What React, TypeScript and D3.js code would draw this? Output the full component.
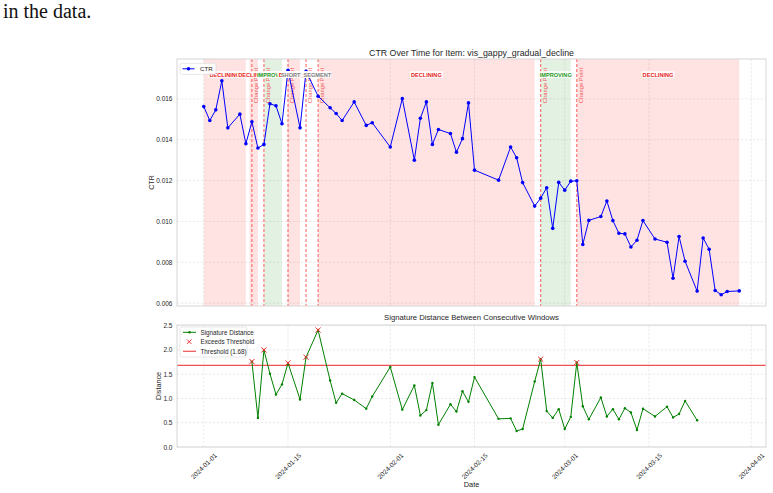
import * as d3 from 'd3';

// CTR series (days since 2024-01-01)
const ctrDays = [
  0, 1, 2, 3, 4, 6, 7, 8, 9, 10, 11, 12, 13, 14, 16, 17, 19, 21, 22, 23, 25, 27, 28, 31, 33,
  35, 36, 37, 38, 39, 41, 42, 43, 44, 45, 49, 51, 52, 53, 55, 56, 57, 58, 59, 60, 61, 62, 63,
  64, 66, 67, 68, 69, 70, 71, 72, 73, 75, 77, 78, 79, 80, 82, 83, 84, 85, 86, 87, 89,
];
const ctrValues = [
  0.01562, 0.01494, 0.01546, 0.01688, 0.01458, 0.01525, 0.0138, 0.01488, 0.01359, 0.01377,
  0.01576, 0.01566, 0.01478, 0.0174, 0.01458, 0.01735, 0.01613, 0.01556, 0.01528, 0.01494,
  0.01585, 0.0147, 0.01483, 0.01364, 0.01601, 0.013, 0.01505, 0.01585, 0.01377, 0.0145,
  0.0143, 0.01339, 0.01405, 0.0158, 0.01251, 0.01202, 0.01364, 0.01312, 0.0119, 0.01075,
  0.01114, 0.01165, 0.00966, 0.01191, 0.01153, 0.01197, 0.01199, 0.00887, 0.01005, 0.01024,
  0.011, 0.01004, 0.00942, 0.00939, 0.00875, 0.00908, 0.01004, 0.00914, 0.00898, 0.00722,
  0.00926, 0.00805, 0.00659, 0.00919, 0.00864, 0.00662, 0.00641, 0.00657, 0.0066,
];

// signature distance between consecutive windows
const distDays = [
  8, 9, 10, 11, 12, 13, 14, 16, 17, 19, 21, 22, 23, 25, 27, 28, 31, 33, 35, 36, 37, 38, 39,
  41, 42, 43, 44, 45, 49, 51, 52, 53, 55, 56, 57, 58, 59, 60, 61, 62, 63, 64, 66, 67, 68, 69,
  70, 71, 72, 73, 75, 77, 78, 79, 80, 82,
];
const distValues = [
  1.76, 0.6, 2.0, 1.51, 1.08, 1.29, 1.73, 0.98, 1.85, 2.41,
  1.37, 0.91, 1.1, 0.97, 0.79, 1.04, 1.65, 0.77, 1.27, 0.65,
  0.76, 1.32, 0.46, 0.88, 0.73, 1.15, 0.93, 1.44, 0.58, 0.59,
  0.33, 0.37, 1.35, 1.81, 0.74, 0.6, 0.78, 0.37, 0.62, 1.74,
  0.84, 0.57, 1.02, 0.63, 0.78, 0.57, 0.8, 0.71, 0.35, 0.79,
  0.63, 0.83, 0.61, 0.68, 0.95, 0.55,
];
const threshold = 1.68;

// detected segments
const segStart = [0, 7.6, 10, 14, 17, 19, 56, 62];
const segEnd = [7, 9, 13, 16, 17, 55, 61, 89];
const segType = ['declining', 'declining', 'improving', 'declining', 'short_segment', 'declining', 'improving', 'declining'];

const dateTicks = ['2024-01-01', '2024-01-15', '2024-02-01', '2024-02-15', '2024-03-01', '2024-03-15', '2024-04-01'];
const ctrTicks = [0.006, 0.008, 0.01, 0.012, 0.014, 0.016];
const distTicks = [0, 0.5, 1.0, 1.5, 2.0, 2.5];

const W = 773;
const H = 493;
const AX = { left: 177, right: 766 };
const TOP = { top: 59, bottom: 306 };
const BOT = { top: 325, bottom: 447 };
const FONT = '"Liberation Sans", Arial, sans-serif';
const INK = '#262626';
const THRESH_RED = '#ef5050';

const BASE = Date.UTC(2024, 0, 1);
const toDate = (d: number) => new Date(BASE + d * 864e5);
const parse = d3.utcParse('%Y-%m-%d');

const segFill: Record<string, string | null> = { declining: 'red', improving: 'green', short_segment: null };
const segColor: Record<string, string> = { declining: '#e81c1c', improving: '#1f9a1f', short_segment: 'gray' };

function pad(lo: number, hi: number): [number, number] {
  const r = hi - lo;
  return [lo - r * 0.05, hi + r * 0.05];
}

export default function App() {
  const allDays = [...ctrDays, ...distDays];
  const [d0, d1] = pad(d3.min(allDays)!, d3.max(allDays)!);
  const x = d3.scaleUtc().domain([toDate(d0), toDate(d1)]).range([AX.left, AX.right]);

  const yCtr = d3.scaleLinear().domain(pad(d3.min(ctrValues)!, d3.max(ctrValues)!)).range([TOP.bottom, TOP.top]);
  const distMax = d3.max(distValues)!;
  const distMin = d3.min(distValues)!;
  const yDist = d3.scaleLinear().domain([0, distMax + (distMax - distMin) * 0.05]).range([BOT.bottom, BOT.top]);

  const ctrPts = ctrDays.map((d, i) => ({ date: toDate(d), v: ctrValues[i] }));
  const distPts = distDays.map((d, i) => ({ date: toDate(d), v: distValues[i] }));
  const exceed = distPts.filter((p) => p.v > threshold);
  const changePoints = exceed.map((p) => p.date);

  const ctrLine = d3.line<{ date: Date; v: number }>().x((p) => x(p.date)).y((p) => yCtr(p.v));
  const distLine = d3.line<{ date: Date; v: number }>().x((p) => x(p.date)).y((p) => yDist(p.v));

  const tickDates = dateTicks.map((t) => parse(t)!);

  const grid = (y0: number, y1: number, yTicks: number[], ys: (v: number) => number) => (
    <g stroke="#e3e3e3" strokeWidth={0.7} strokeDasharray="2.5,1.5">
      {tickDates.map((t, i) => (
        <line key={'v' + i} x1={x(t)} x2={x(t)} y1={y0} y2={y1} />
      ))}
      {yTicks.map((t, i) => (
        <line key={'h' + i} x1={AX.left} x2={AX.right} y1={ys(t)} y2={ys(t)} />
      ))}
    </g>
  );

  const frame = (y0: number, y1: number) => (
    <rect x={AX.left} y={y0} width={AX.right - AX.left} height={y1 - y0} fill="none" stroke="#d6d6d6" strokeWidth={1} />
  );

  const labelY = 74.5;

  return (
    <svg width={W} height={H} style={{ position: 'absolute', left: 0, top: 0, background: '#fff' }} fontFamily={FONT}>
      <text x={3} y={18} fontFamily='"Liberation Serif", "DejaVu Serif", serif' fontSize={20} fill="#111">
        in the data.
      </text>

      {/* ---- CTR over time ---- */}
      {grid(TOP.top, TOP.bottom, ctrTicks, yCtr)}
      <clipPath id="topClip">
        <rect x={AX.left} y={TOP.top} width={AX.right - AX.left} height={TOP.bottom - TOP.top} />
      </clipPath>
      <g clipPath="url(#topClip)">
        {segType.map((t, i) =>
          segFill[t] ? (
            <rect
              key={i}
              x={x(toDate(segStart[i]))}
              y={TOP.top}
              width={x(toDate(segEnd[i])) - x(toDate(segStart[i]))}
              height={TOP.bottom - TOP.top}
              fill={segFill[t]!}
              fillOpacity={0.11}
            />
          ) : null,
        )}
        {changePoints.map((c, i) => (
          <g key={i}>
            <line x1={x(c)} x2={x(c)} y1={TOP.top} y2={TOP.bottom} stroke="#ff4a4a" strokeWidth={0.9} strokeDasharray="3,2" />
            <text
              transform={`translate(${x(c) + 6.3},68) rotate(-90)`}
              textAnchor="end"
              fontSize={5.8}
              fill="#f05a5a"
            >
              Change Point
            </text>
          </g>
        ))}
        <path d={ctrLine(ctrPts)!} fill="none" stroke="#0000ff" strokeWidth={1} />
        {ctrPts.map((p, i) => (
          <circle key={i} cx={x(p.date)} cy={yCtr(p.v)} r={1.8} fill="#0000ff" />
        ))}
        {segType.map((t, i) => {
          const cx = x(toDate((segStart[i] + segEnd[i]) / 2));
          const label = t.toUpperCase();
          const w = label.length * (t === 'short_segment' ? 3.7 : 3.45) + 2;
          return (
            <g key={i}>
              <rect x={cx - w / 2} y={labelY - 3.3} width={w} height={6.6} fill="#fff" fillOpacity={0.9} />
              <text x={cx} y={labelY} textAnchor="middle" dominantBaseline="central" fontSize={5.6} fontWeight="bold" fill={segColor[t]}>
                {label}
              </text>
            </g>
          );
        })}
      </g>
      {frame(TOP.top, TOP.bottom)}
      {ctrTicks.map((t, i) => (
        <text key={i} x={172.5} y={yCtr(t)} textAnchor="end" dominantBaseline="central" fontSize={6.5} fill={INK}>
          {d3.format('.3f')(t)}
        </text>
      ))}
      <text transform={`translate(151,${(TOP.top + TOP.bottom) / 2}) rotate(-90)`} textAnchor="middle" dominantBaseline="central" fontSize={7} fill={INK}>
        CTR
      </text>
      <text x={(AX.left + AX.right) / 2} y={56} textAnchor="middle" fontSize={8.8} fill={INK}>
        CTR Over Time for Item: vis_gappy_gradual_decline
      </text>
      {/* legend */}
      <g>
        <rect x={180} y={63.3} width={36} height={11} rx={1.5} fill="#fff" fillOpacity={0.85} stroke="#d6d6d6" strokeWidth={0.6} />
        <line x1={182.5} x2={194.5} y1={68.8} y2={68.8} stroke="#0000ff" strokeWidth={1} />
        <circle cx={188.5} cy={68.8} r={1.8} fill="#0000ff" />
        <text x={200} y={68.8} dominantBaseline="central" fontSize={6.2} fill={INK}>CTR</text>
      </g>

      {/* ---- signature distance ---- */}
      {grid(BOT.top, BOT.bottom, distTicks, yDist)}
      <line x1={AX.left} x2={AX.right} y1={yDist(threshold)} y2={yDist(threshold)} stroke={THRESH_RED} strokeWidth={1.2} />
      <path d={distLine(distPts)!} fill="none" stroke="green" strokeWidth={1} />
      {distPts.map((p, i) => (
        <circle key={i} cx={x(p.date)} cy={yDist(p.v)} r={1.2} fill="green" />
      ))}
      {exceed.map((p, i) => {
        const cx = x(p.date);
        const cy = yDist(p.v);
        return (
          <path key={i} d={`M${cx - 2.6},${cy - 2.6}L${cx + 2.6},${cy + 2.6}M${cx - 2.6},${cy + 2.6}L${cx + 2.6},${cy - 2.6}`} stroke="#f03030" strokeWidth={1} />
        );
      })}
      {frame(BOT.top, BOT.bottom)}
      {distTicks.map((t, i) => (
        <text key={i} x={172.5} y={yDist(t)} textAnchor="end" dominantBaseline="central" fontSize={6.5} fill={INK}>
          {d3.format('.1f')(t)}
        </text>
      ))}
      {tickDates.map((t, i) => (
        <text
          key={i}
          transform={`translate(${x(t)},466) rotate(-45)`}
          textAnchor="middle"
          dominantBaseline="central"
          fontSize={6.5}
          fill={INK}
        >
          {dateTicks[i]}
        </text>
      ))}
      <text transform={`translate(158,${(BOT.top + BOT.bottom) / 2}) rotate(-90)`} textAnchor="middle" dominantBaseline="central" fontSize={7.2} fill={INK}>
        Distance
      </text>
      <text x={(AX.left + AX.right) / 2} y={487} textAnchor="middle" fontSize={7.4} fill={INK}>
        Date
      </text>
      <text x={(AX.left + AX.right) / 2} y={319.5} textAnchor="middle" fontSize={7.7} fill={INK}>
        Signature Distance Between Consecutive Windows
      </text>
      {/* legend */}
      <g fontSize={6.3} fill={INK}>
        <rect x={180} y={327} width={67} height={30} rx={1.5} fill="#fff" fillOpacity={0.85} stroke="#d6d6d6" strokeWidth={0.6} />
        <line x1={183} x2={196} y1={332.3} y2={332.3} stroke="green" strokeWidth={1} />
        <circle cx={189.5} cy={332.3} r={1.2} fill="green" />
        <text x={200.5} y={332.3} dominantBaseline="central">Signature Distance</text>
        <path d="M187,339.5L191.4,343.9M187,343.9L191.4,339.5" stroke="#f03030" strokeWidth={1} />
        <text x={200.5} y={341.7} dominantBaseline="central">Exceeds Threshold</text>
        <line x1={183} x2={196} y1={351.3} y2={351.3} stroke={THRESH_RED} strokeWidth={1.2} />
        <text x={200.5} y={351.3} dominantBaseline="central">{`Threshold (${threshold.toFixed(2)})`}</text>
      </g>
    </svg>
  );
}
